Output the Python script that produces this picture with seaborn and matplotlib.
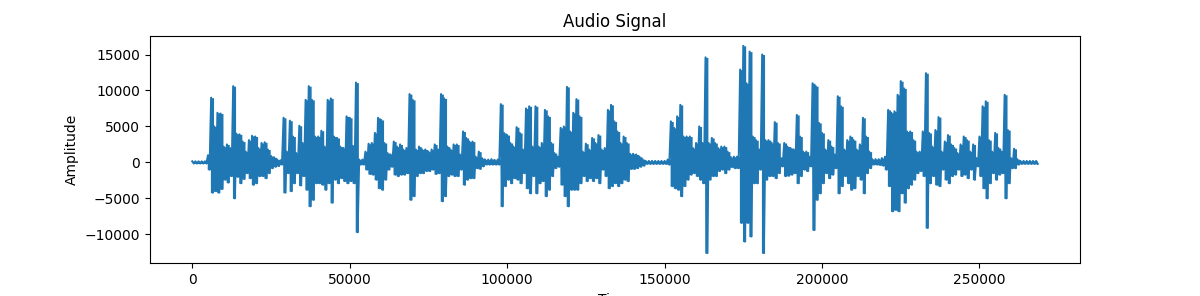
import numpy as np
import pandas as pd
import matplotlib
matplotlib.use("Agg")
import matplotlib.pyplot as plt
import seaborn as sns

# Waveform: per 1000-sample bin, peak (upper) and trough (lower), in thousands
bin_size = 1000
upper_k = [
    0.15, 0.15, 0.15, 0.15, 0.15, 1.0, 9.0, 5.0, 6.9, 6.8,
    2.2, 2.5, 2.0, 10.6, 4.0, 3.9, 2.9, 1.5, 3.1, 3.7,
    3.6, 2.0, 2.7, 2.8, 1.8, 0.9, 0.7, 0.4, 0.3, 6.2,
    1.5, 5.8, 3.6, 1.3, 5.1, 2.7, 8.7, 10.6, 8.7, 3.6,
    3.6, 4.4, 2.2, 8.7, 8.9, 3.6, 3.4, 2.2, 2.0, 6.4,
    6.2, 2.3, 11.1, 0.4, 0.4, 1.5, 2.6, 2.7, 4.1, 6.2,
    5.9, 2.7, 1.3, 1.1, 2.9, 2.2, 2.5, 1.8, 2.0, 9.5,
    8.7, 1.8, 2.2, 1.8, 1.8, 1.5, 1.8, 2.5, 1.8, 9.5,
    8.9, 2.2, 1.8, 2.5, 2.5, 1.1, 4.3, 3.4, 2.9, 2.9,
    0.8, 1.5, 0.6, 0.4, 0.4, 0.45, 0.35, 0.4, 8.1, 4.1,
    3.8, 2.7, 2.2, 4.9, 4.1, 1.8, 7.5, 7.8, 2.2, 7.8,
    2.2, 2.7, 7.3, 6.4, 2.7, 1.3, 0.8, 4.8, 5.0, 10.5,
    4.3, 6.9, 8.8, 6.4, 1.5, 2.6, 1.8, 3.4, 2.7, 3.8,
    1.8, 2.0, 7.3, 8.0, 5.7, 4.3, 2.7, 3.6, 2.7, 1.2,
    1.2, 1.1, 0.8, 0.45, 0.2, 0.2, 0.2, 0.2, 0.2, 0.2,
    0.2, 0.4, 5.7, 4.8, 6.4, 8.0, 3.6, 3.6, 3.6, 2.0,
    2.7, 5.0, 2.7, 14.6, 2.7, 3.4, 2.7, 2.0, 2.2, 2.2,
    1.5, 0.75, 0.8, 0.8, 12.9, 16.2, 11.0, 15.4, 3.6, 3.1,
    1.8, 15.0, 3.1, 3.1, 2.7, 5.6, 2.7, 0.6, 2.7, 2.2,
    2.0, 1.8, 6.6, 3.6, 1.5, 1.5, 0.8, 11.0, 10.6, 5.5,
    4.1, 1.8, 3.1, 2.2, 1.1, 9.2, 7.8, 1.8, 3.1, 3.6,
    3.1, 1.8, 2.5, 6.2, 3.6, 1.5, 0.45, 0.45, 0.45, 0.6,
    0.8, 7.3, 6.9, 7.1, 9.4, 11.3, 10.3, 4.3, 4.3, 3.1,
    1.5, 1.5, 4.3, 12.4, 4.1, 2.2, 4.5, 6.3, 1.5, 2.9,
    3.8, 2.5, 2.0, 1.3, 2.5, 3.6, 3.1, 1.5, 2.5, 0.6,
    3.6, 7.8, 8.5, 3.1, 1.5, 4.1, 2.0, 1.5, 9.4, 4.5,
    0.6, 1.9, 0.45, 0.2, 0.2, 0.2, 0.2, 0.2, 0.2,
]
lower_k = [
    -0.15, -0.15, -0.15, -0.15, -0.15, -1.0, -4.2, -4.0, -4.2, -3.7,
    -2.4, -2.8, -1.9, -5.0, -2.0, -2.9, -2.3, -1.5, -2.2, -3.1,
    -2.9, -1.9, -1.9, -2.2, -1.5, -0.8, -0.6, -0.5, -0.3, -4.2,
    -1.5, -4.0, -2.9, -1.5, -3.2, -1.9, -3.8, -6.1, -5.2, -2.9,
    -2.9, -3.1, -3.8, -2.9, -5.6, -2.4, -2.9, -2.2, -2.6, -2.9,
    -2.6, -2.9, -9.7, -0.3, -0.3, -1.0, -1.6, -1.7, -2.4, -3.6,
    -3.8, -2.4, -1.0, -0.6, -1.7, -1.9, -1.7, -1.7, -1.5, -5.2,
    -4.7, -1.9, -1.5, -1.5, -1.2, -1.2, -1.0, -1.6, -1.5, -5.4,
    -4.7, -1.9, -1.7, -1.9, -1.9, -1.0, -3.1, -2.4, -2.2, -2.2,
    -0.8, -0.9, -0.55, -0.3, -0.3, -0.3, -0.3, -0.3, -6.1, -3.3,
    -2.4, -2.9, -2.2, -2.4, -2.9, -1.5, -3.6, -4.3, -1.9, -4.3,
    -2.9, -2.6, -4.7, -3.8, -1.9, -0.8, -0.6, -3.1, -4.7, -6.1,
    -3.8, -3.8, -3.8, -2.9, -1.9, -2.6, -2.2, -2.6, -2.2, -2.9,
    -1.0, -1.9, -3.6, -3.3, -2.9, -3.3, -2.9, -2.4, -2.6, -0.9,
    -0.9, -0.8, -0.6, -0.45, -0.2, -0.2, -0.2, -0.2, -0.2, -0.2,
    -0.2, -0.3, -3.3, -3.6, -3.8, -4.7, -3.3, -2.4, -1.7, -1.5,
    -1.9, -2.4, -2.9, -12.6, -2.4, -1.9, -1.9, -1.2, -1.0, -1.5,
    -1.0, -0.65, -0.8, -0.8, -8.4, -11.0, -8.4, -10.3, -2.9, -2.9,
    -1.0, -12.6, -2.4, -1.9, -1.9, -2.2, -1.5, -0.55, -1.9, -1.85,
    -1.7, -1.5, -2.9, -1.9, -1.0, -1.2, -0.55, -9.4, -5.2, -4.3,
    -2.9, -1.5, -2.2, -1.7, -0.8, -4.3, -3.3, -1.9, -2.9, -3.8,
    -3.6, -1.9, -2.4, -4.3, -1.5, -0.8, -0.3, -0.3, -0.35, -0.45,
    -1.0, -3.3, -6.8, -6.6, -6.8, -4.3, -5.6, -3.6, -3.1, -2.4,
    -1.5, -1.2, -1.9, -9.1, -2.9, -1.9, -3.1, -3.3, -1.0, -2.4,
    -2.9, -1.9, -1.7, -1.0, -1.9, -1.7, -2.2, -1.0, -2.4, -0.55,
    -1.9, -3.6, -5.0, -2.9, -1.5, -2.4, -1.7, -1.5, -5.0, -2.9,
    -0.8, -0.8, -0.3, -0.2, -0.2, -0.2, -0.2, -0.2, -0.2,
]
assert len(upper_k) == len(lower_k)

n = len(upper_k)
times = []
amps = []
for k in range(n):
    times.append(k * bin_size)
    amps.append(upper_k[k] * 1000)
    times.append(k * bin_size + bin_size // 2)
    amps.append(lower_k[k] * 1000)

df = pd.DataFrame({"Time": times, "Amplitude": amps})
bins = pd.DataFrame({
    "Time": [k * bin_size + bin_size // 4 for k in range(n)],
    "upper": [u * 1000 for u in upper_k],
    "lower": [l * 1000 for l in lower_k],
})

color = "#1f77b4"
fig, ax = plt.subplots(figsize=(12, 2.96), dpi=100)
# solid body of the waveform (per-bin envelope)
ax.fill_between(bins["Time"], bins["lower"], bins["upper"], step="mid",
                color=color, linewidth=0)
sns.lineplot(data=df, x="Time", y="Amplitude", ax=ax, color=color,
             linewidth=1.5, estimator=None, sort=False)
ax.set_title("Audio Signal")
ax.set_xlabel("Time")
ax.set_ylabel("Amplitude")
fig.savefig("out.png", dpi=100)
